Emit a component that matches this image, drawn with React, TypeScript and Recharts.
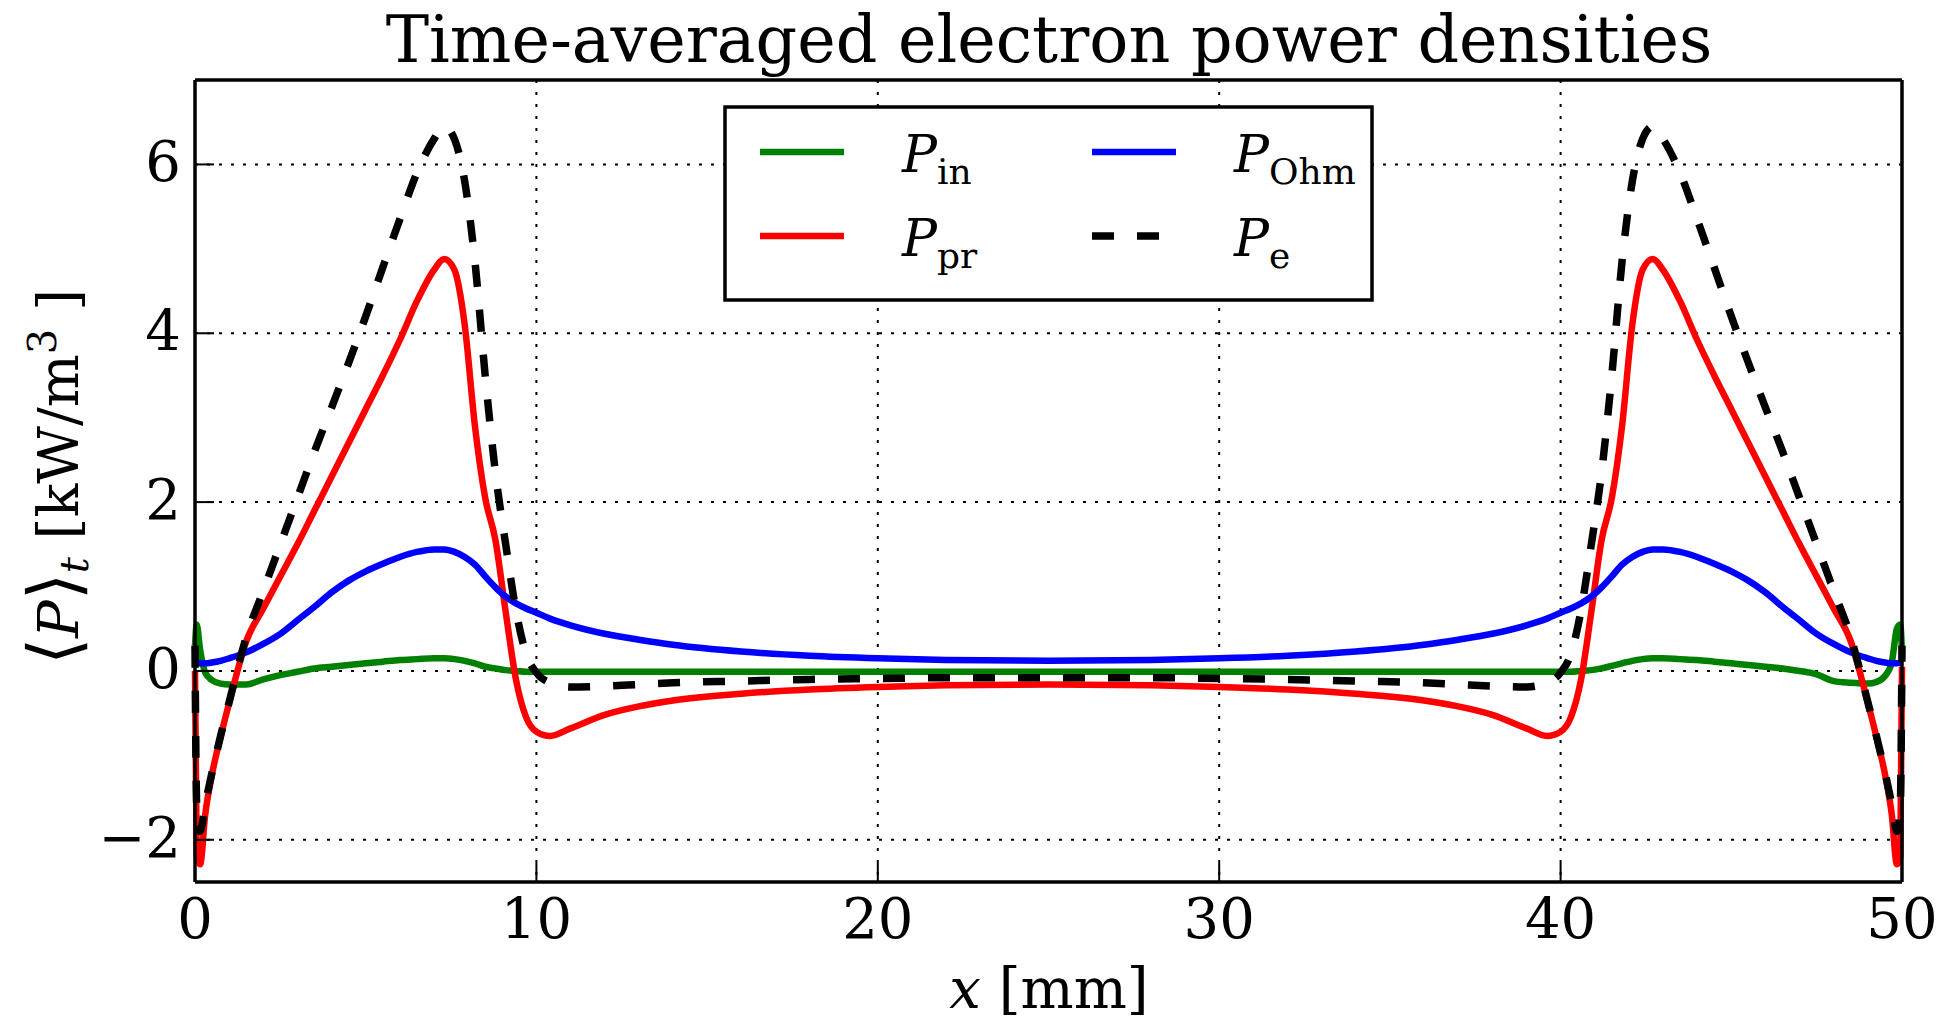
import React from 'react';
import { LineChart, Line, XAxis, YAxis, CartesianGrid } from 'recharts';

// x positions [mm]
const X_MM = [
  0, 0.05, 0.15, 0.3, 0.5, 0.75, 1.0, 1.5, 2, 2.5, 3, 3.5, 4, 4.5, 5, 5.5, 6, 6.5, 7, 7.3,
  7.6, 7.9, 8.2, 8.5, 8.8, 9.1, 9.4, 9.7, 10, 10.4, 11, 12, 13, 14, 16, 18, 20, 22, 25,
  28, 30, 32, 34, 36, 37, 38, 39, 39.6, 40, 40.3, 40.6, 40.9, 41.2, 41.5, 41.8, 42.1, 42.4,
  42.7, 43, 43.5, 44, 44.5, 45, 45.5, 46, 46.5, 47, 47.5, 48, 48.5, 49, 49.25, 49.5, 49.7,
  49.85, 49.95, 50,
];

// P_in (green)
const P_IN = [
  0.3, 0.55, 0.25, -0.02, -0.11, -0.15, -0.16, -0.16, -0.1, -0.05, -0.01, 0.03, 0.05, 0.07,
  0.09, 0.11, 0.13, 0.14, 0.15, 0.15, 0.14, 0.12, 0.09, 0.05, 0.03, 0.01, 0.0, -0.01, -0.01,
  -0.01, -0.01, -0.01, -0.01, -0.01, -0.01, -0.01, -0.01, -0.01, -0.01,
  -0.01, -0.01, -0.01, -0.01, -0.01, -0.01, -0.01, -0.01, -0.01, -0.01, -0.01, 0.0, 0.01,
  0.03, 0.06, 0.09, 0.12, 0.14, 0.15, 0.15, 0.14, 0.13, 0.11, 0.09, 0.07, 0.05, 0.03, 0.0,
  -0.04, -0.12, -0.14, -0.15, -0.13, -0.06, 0.1, 0.5, 0.55, 0.2,
];

// P_pr (red)
const P_PR = [
  0.0, -2.2, -2.29, -1.7, -1.22, -0.78, -0.38, 0.35, 0.74, 1.12, 1.5, 1.9, 2.3, 2.7, 3.1,
  3.5, 3.92, 4.38, 4.75, 4.88, 4.75, 4.1, 2.9, 2.05, 1.55, 0.7, -0.1, -0.55, -0.72, -0.77,
  -0.68, -0.52, -0.42, -0.35, -0.27, -0.22, -0.19, -0.17, -0.16,
  -0.17, -0.19, -0.22, -0.27, -0.35, -0.42, -0.52, -0.68, -0.77, -0.72, -0.55, -0.1, 0.7,
  1.55, 2.05, 2.9, 4.1, 4.75, 4.88, 4.75, 4.38, 3.92, 3.5, 3.1, 2.7, 2.3, 1.9, 1.5, 1.12,
  0.74, 0.35, -0.38, -0.78, -1.22, -1.7, -2.29, -2.2, 0.05,
];

// P_Ohm (blue)
const P_OHM = [
  0.11, 0.1, 0.09, 0.09, 0.1, 0.12, 0.15, 0.22, 0.32, 0.44, 0.6, 0.76, 0.93, 1.07, 1.18,
  1.27, 1.35, 1.41, 1.44, 1.44, 1.41, 1.35, 1.26, 1.12, 0.99, 0.88, 0.8, 0.74, 0.69, 0.62,
  0.54, 0.44, 0.37, 0.31, 0.23, 0.18, 0.15, 0.13, 0.12,
  0.13, 0.15, 0.18, 0.23, 0.31, 0.37, 0.44, 0.54, 0.62, 0.69, 0.74, 0.8, 0.88, 0.99, 1.12,
  1.26, 1.35, 1.41, 1.44, 1.44, 1.41, 1.35, 1.27, 1.18, 1.07, 0.93, 0.76, 0.6, 0.44, 0.32,
  0.22, 0.15, 0.12, 0.1, 0.09, 0.09, 0.1, 0.11,
];

// P_e (black dashed)
const P_E = [
  0.3, -1.6, -1.9, -1.58, -1.2, -0.77, -0.37, 0.4, 0.95, 1.5, 2.05, 2.6, 3.12, 3.65, 4.2,
  4.78, 5.35, 5.9, 6.3, 6.45, 6.3, 5.8, 4.85, 3.5, 2.35, 1.5, 0.72, 0.2, -0.02, -0.14, -0.19,
  -0.18, -0.16, -0.14, -0.12, -0.1, -0.09, -0.08, -0.08,
  -0.08, -0.09, -0.1, -0.12, -0.14, -0.16, -0.18, -0.19, -0.14, -0.02, 0.2, 0.72, 1.5, 2.35,
  3.5, 4.85, 5.8, 6.3, 6.45, 6.3, 5.9, 5.35, 4.78, 4.2, 3.65, 3.12, 2.6, 2.05, 1.5, 0.95,
  0.4, -0.37, -0.77, -1.2, -1.58, -1.9, -1.6, 0.3,
];

const X_TICKS = [0, 10, 20, 30, 40, 50];
const Y_TICKS = [-2, 0, 2, 4, 6];
const X_DOMAIN = [0, 50];
const Y_DOMAIN = [-2.5, 7];
const TITLE = 'Time-averaged electron power densities';

const SERIES = [
  { key: 'pin', values: P_IN, color: '#008000', dash: undefined as string | undefined, width: 6.5, sub: 'in' },
  { key: 'ppr', values: P_PR, color: '#ff0000', dash: undefined as string | undefined, width: 6.5, sub: 'pr' },
  { key: 'pohm', values: P_OHM, color: '#0000ff', dash: undefined as string | undefined, width: 6.5, sub: 'Ohm' },
  { key: 'pe', values: P_E, color: '#000000', dash: '22 23', width: 7.5, sub: 'e' },
];

const data = X_MM.map((x, i) => {
  const row: Record<string, number> = { x };
  SERIES.forEach((s) => {
    row[s.key] = s.values[i];
  });
  return row;
});

const W = 1942;
const H = 1023;
const FONT = "'DejaVu Serif', serif";
// plot area: left 195, top 80, right 1902, bottom 882
const MARGIN = { top: 60, right: 20, bottom: 61, left: 95 };
const AX = { left: 100, right: 20, top: 20, bottom: 80 };
const TICK_LEN = 19;

const fmt = (v: number) => (v < 0 ? '\u2212' + Math.abs(v) : String(v));

const XTick = (props: any) => {
  const { x, y, payload } = props;
  return (
    <text x={x} y={y + TICK_LEN + 56} textAnchor="middle" fontSize={56} fontFamily={FONT} fill="#000">
      {fmt(payload.value)}
    </text>
  );
};

const YTick = (props: any) => {
  const { x, y, payload } = props;
  return (
    <text x={x - TICK_LEN - 14} y={y + 17} textAnchor="end" fontSize={56} fontFamily={FONT} fill="#000">
      {fmt(payload.value)}
    </text>
  );
};

const axisLine = { stroke: '#000', strokeWidth: 3.5 };
const tickLine = { stroke: '#000', strokeWidth: 2 };

const LegendBox = () => {
  const box = { x: 725, y: 107, w: 647, h: 193 };
  const cols = [760, 1092];
  const rows = [152, 236];
  return (
    <g>
      <rect x={box.x} y={box.y} width={box.w} height={box.h} fill="#fff" stroke="#000" strokeWidth={3.5} />
      {SERIES.map((s, i) => {
        const col = Math.floor(i / 2);
        const row = i % 2;
        const lx = cols[col];
        const ly = rows[row];
        return (
          <g key={s.key}>
            <line x1={lx} x2={lx + 84} y1={ly} y2={ly} stroke={s.color} strokeWidth={s.width} strokeDasharray={s.dash} />
            <text x={lx + 142} y={ly + 20} fontSize={52} fontFamily={FONT} fill="#000">
              <tspan fontStyle="italic">P</tspan>
              <tspan fontSize={36} dy={12}>{s.sub}</tspan>
            </text>
          </g>
        );
      })}
    </g>
  );
};

const Overlay = () => (
  <svg width={W} height={H} style={{ position: 'absolute', left: 0, top: 0, pointerEvents: 'none' }}>
    <text x={1049} y={62} textAnchor="middle" fontSize={65} fontFamily={FONT} fill="#000">
      {TITLE}
    </text>
    <text x={1049} y={1008} textAnchor="middle" fontSize={56} fontFamily={FONT} fill="#000">
      <tspan fontStyle="italic">x</tspan>
      <tspan> [mm]</tspan>
    </text>
    <text transform="rotate(-90 78 477)" x={78} y={477} textAnchor="middle" fontSize={56} fontFamily={FONT} fill="#000">
      <tspan fontFamily="'DejaVu Sans', sans-serif" fontWeight={200} fontSize={70}>{'\u27E8'}</tspan>
      <tspan fontStyle="italic">P</tspan>
      <tspan fontFamily="'DejaVu Sans', sans-serif" fontWeight={200} fontSize={70}>{'\u27E9'}</tspan>
      <tspan fontStyle="italic" fontSize={40} dy={10}>t</tspan>
      <tspan dy={-10}> [kW/m</tspan>
      <tspan fontSize={40} dy={-22}>3</tspan>
      <tspan dy={22}> ]</tspan>
    </text>
    <LegendBox />
  </svg>
);

export default function App() {
  return (
    <div style={{ position: 'absolute', left: 0, top: 0, width: W, height: H, background: '#fff' }}>
      <LineChart width={W} height={H} data={data} margin={MARGIN}>
        <CartesianGrid stroke="#000" strokeWidth={2} strokeDasharray="3 9" />
        <XAxis
          dataKey="x"
          type="number"
          domain={X_DOMAIN}
          ticks={X_TICKS}
          interval={0}
          height={AX.bottom}
          tickSize={-TICK_LEN}
          tickMargin={0}
          axisLine={axisLine}
          tickLine={tickLine}
          tick={<XTick />}
        />
        <XAxis
          xAxisId="top"
          orientation="top"
          type="number"
          domain={X_DOMAIN}
          ticks={X_TICKS}
          interval={0}
          height={AX.top}
          tickSize={-TICK_LEN}
          axisLine={axisLine}
          tickLine={tickLine}
          tick={false}
        />
        <YAxis
          type="number"
          domain={Y_DOMAIN}
          ticks={Y_TICKS}
          interval={0}
          width={AX.left}
          tickSize={-TICK_LEN}
          tickMargin={0}
          axisLine={axisLine}
          tickLine={tickLine}
          tick={<YTick />}
          allowDataOverflow
        />
        <YAxis
          yAxisId="right"
          orientation="right"
          type="number"
          domain={Y_DOMAIN}
          ticks={Y_TICKS}
          interval={0}
          width={AX.right}
          tickSize={-TICK_LEN}
          axisLine={axisLine}
          tickLine={tickLine}
          tick={false}
        />
        {SERIES.map((s) => (
          <Line
            key={s.key}
            dataKey={s.key}
            type="monotone"
            stroke={s.color}
            strokeWidth={s.width}
            strokeDasharray={s.dash}
            dot={false}
            activeDot={false}
            isAnimationActive={false}
          />
        ))}
      </LineChart>
      <Overlay />
    </div>
  );
}
